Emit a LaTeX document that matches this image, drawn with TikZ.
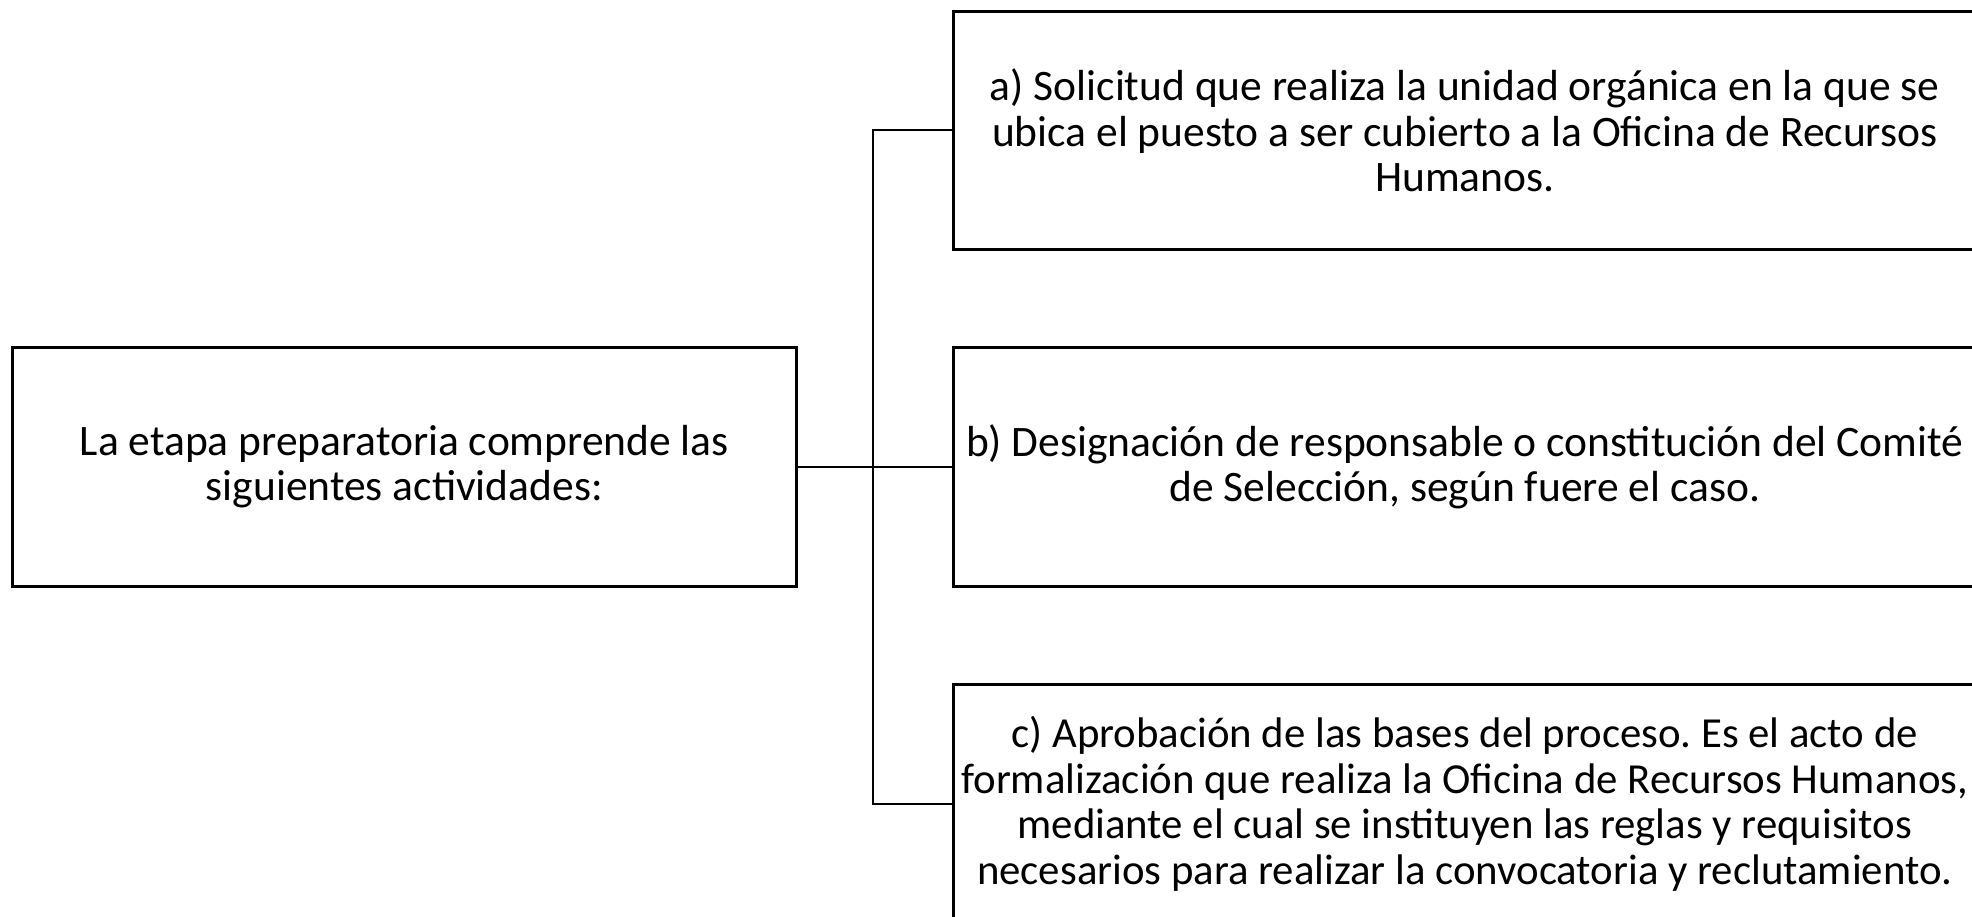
\documentclass[tikz,border=0pt]{standalone}
\usepackage{fontspec}
\setmainfont{Carlito}
\begin{document}
\frenchspacing
\begin{tikzpicture}[x=1pt,y=-1pt,
  box/.style={draw=black,line width=2.6pt,anchor=north west,inner sep=0pt,
    align=center,font=\fontsize{43.5}{45.5}\selectfont},
  link/.style={draw=black,line width=2.2pt}]
\useasboundingbox (0,0) rectangle (1972,917);
\clip (0,0) rectangle (1972,917);
\fill[white] (0,0) rectangle (1972,917);
\node[box,minimum width=784pt,minimum height=239pt] (L) at (11,346)
  {La etapa preparatoria comprende las\\siguientes actividades:};
\node[box,minimum width=1023pt,minimum height=238pt] (A) at (952,10)
  {a) Solicitud que realiza la unidad orgánica en la que se\\ubica el puesto a ser cubierto a la Oficina de Recursos\\Humanos.};
\node[box,minimum width=1023pt,minimum height=239pt] (B) at (952,346)
  {b) Designación de responsable o constitución del Comité\\de Selección, según fuere el caso.};
\node[box,minimum width=1023pt,minimum height=239pt,font=\fontsize{42.8}{45.5}\selectfont] (C) at (952,683)
  {c) Aprobación de las bases del proceso. Es el acto de\\formalización que realiza la Oficina de Recursos Humanos,\\mediante el cual se instituyen las reglas y requisitos\\necesarios para realizar la convocatoria y reclutamiento.};
\coordinate (bus) at (873,0);
\draw[link] (L.east) -- (B.west);
\draw[link] (A.west) -- (A.west -| bus) -- (C.west -| bus) -- (C.west);
\end{tikzpicture}
\end{document}
